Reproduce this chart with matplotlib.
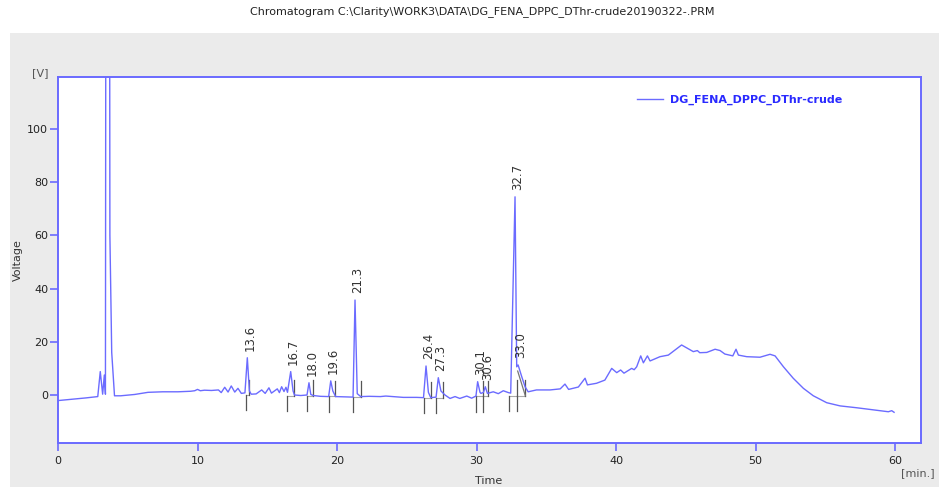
import matplotlib
matplotlib.use("Agg")
import matplotlib.pyplot as plt
from matplotlib.patches import Rectangle

# ---- data ----
trace_time = [0.0, 1.0, 2.0, 2.85, 3.03, 3.20, 3.32, 3.40, 3.56, 3.72, 3.85, 4.05, 4.5, 5.5,
              6.45, 7.5, 8.6, 9.5, 9.8, 10.0, 10.2, 10.5, 11.0, 11.5, 11.7, 11.95, 12.19,
              12.42, 12.67, 12.9, 13.14, 13.40, 13.57, 13.72, 13.85, 14.2, 14.6, 14.85,
              15.12, 15.3, 15.72, 15.87, 16.03, 16.2, 16.34, 16.45, 16.68, 16.85, 16.95,
              17.4, 17.85, 17.99, 18.12, 18.3, 18.8, 19.4, 19.55, 19.7, 19.9, 20.5, 21.15,
              21.29, 21.45, 21.7, 22.3, 23.1, 23.5, 24.2, 24.75, 25.7, 26.2, 26.38, 26.55,
              26.72, 27.1, 27.26, 27.45, 27.74, 28.1, 28.46, 28.8, 29.3, 29.65, 29.96,
              30.08, 30.25, 30.32, 30.50, 30.63, 30.78, 31.2, 31.56, 31.92, 32.28, 32.45,
              32.76, 32.88, 32.98, 33.24, 33.48, 33.7, 34.3, 35.27, 36.0, 36.34, 36.6,
              37.3, 37.78, 37.95, 38.6, 39.2, 39.69, 40.05, 40.33, 40.57, 41.12, 41.3,
              41.48, 41.77, 41.96, 42.25, 42.44, 43.15, 43.75, 44.7, 45.54, 45.83, 46.0,
              46.5, 47.1, 47.46, 47.8, 48.37, 48.6, 48.77, 49.37, 50.32, 51.04, 51.4,
              52.0, 52.7, 53.43, 54.14, 55.1, 56.06, 57.25, 58.45, 59.52, 59.76, 59.93]
trace_voltage = [-2.1, -1.6, -1.1, -0.6, 8.8, 0.3, 7.5, 0.3, 900.0, 60.0, 16.0, -0.3, -0.3, 0.2,
                 1.0, 1.2, 1.2, 1.4, 1.6, 2.1, 1.6, 1.8, 1.7, 1.9, 0.9, 2.9, 1.1,
                 3.4, 1.1, 2.5, 0.6, 0.8, 14.0, 1.5, 0.3, 0.4, 1.9, 0.6,
                 2.7, 0.7, 2.3, 0.9, 3.1, 1.3, 2.9, 1.0, 8.8, 1.5, 0.0,
                 -0.2, 0.0, 4.6, 0.2, -0.2, -0.5, -0.6, 5.3, 1.5, -0.6, -0.7, -0.8,
                 35.7, 0.5, -0.6, -0.5, -0.6, -0.4, -0.7, -0.9, -0.9, -1.0, 10.9, 1.0,
                 -1.0, -0.8, 6.5, 1.5, 0.0, -1.3, -0.6, -1.3, -0.4, -1.2, -0.4,
                 5.0, 1.0, 0.6, 1.0, 3.1, 0.6, 1.2, 0.5, 1.6, 0.9, 0.7,
                 74.5, 10.6, 11.3, 6.9, 3.1, 1.2, 1.9, 1.9, 2.3, 4.1, 2.1,
                 3.0, 6.3, 3.8, 4.4, 5.6, 10.0, 8.4, 9.4, 8.2, 10.0, 9.5,
                 10.6, 14.7, 12.1, 14.7, 12.8, 14.4, 15.0, 18.8, 16.3, 16.7, 15.9,
                 16.0, 17.2, 16.7, 15.4, 14.7, 17.2, 15.0, 14.4, 14.2, 15.3, 14.7,
                 10.6, 6.3, 2.5, -0.3, -2.9, -4.1, -4.8, -5.6, -6.3, -5.9, -6.5]

peak_labels = ["13.6", "16.7", "18.0", "19.6", "21.3", "26.4", "27.3", "30.1", "30.6", "32.7", "33.0"]
peak_apex_time = [13.57, 16.68, 17.99, 19.55, 21.29, 26.38, 27.26, 30.08, 30.63, 32.76, 32.98]
peak_apex_volt = [14.0, 8.8, 4.6, 5.3, 35.7, 10.9, 6.5, 5.0, 3.1, 74.5, 11.3]
peak_start = [13.45, 16.43, 17.87, 19.40, 21.17, 26.24, 27.10, 29.96, 30.44, 32.35, 32.90]
peak_end = [13.71, 16.92, 18.30, 19.88, 21.72, 26.74, 27.57, 30.44, 30.80, 32.90, 33.50]
peak_base = [0.0, -0.2, -0.2, -0.5, -0.7, -1.0, -1.0, -0.5, -0.5, -0.3, -0.3]

x_ticks = [0, 10, 20, 30, 40, 50, 60]
y_ticks = [0, 20, 40, 60, 80, 100]

title = "Chromatogram C:\\Clarity\\WORK3\\DATA\\DG_FENA_DPPC_DThr-crude20190322-.PRM"
series_name = "DG_FENA_DPPC_DThr-crude"

# ---- styling ----
W, H = 939, 487
TRACE = "#6b6bff"
SPINE = "#6a6aff"
TXT = "#333333"
plt.rcParams["font.family"] = ["DejaVu Sans"]
plt.rcParams["font.size"] = 8

fig = plt.figure(figsize=(W / 100, H / 100), dpi=100, facecolor="white")
bg = Rectangle((10 / W, 0), 1 - 10 / W, (H - 33) / H, transform=fig.transFigure,
               facecolor="#ebebeb", edgecolor="none", zorder=-10)
fig.add_artist(bg)

ax = fig.add_axes([58 / W, (H - 443) / H, (921 - 58) / W, (443 - 77) / H])
ax.set_zorder(1)
ax.set_facecolor("white")
ax.plot(trace_time, trace_voltage, color=TRACE, lw=1.0, label=series_name, zorder=3)
ax.set_xlim(0, 61.86)
ax.set_ylim(-18.05, 119.55)
ax.set_xticks(x_ticks)
ax.set_yticks(y_ticks)
for s in ax.spines.values():
    s.set_color(SPINE)
    s.set_linewidth(1.4)
ax.tick_params(direction="out", length=6, width=1.2, color=SPINE, labelcolor="#222222",
               labelsize=8)
ax.tick_params(axis="y", pad=1)
ax.tick_params(axis="x", pad=3)

mark = 5.8
for lab, ta, va, ts, te, b in zip(peak_labels, peak_apex_time, peak_apex_volt,
                                  peak_start, peak_end, peak_base):
    ax.plot([ts, te], [b, b], color="#aaaaaa", lw=0.8, zorder=2)
    ax.plot([ts, ts], [b, b - mark], color="#555555", lw=0.9, zorder=2)
    ax.plot([te, te], [b, b + mark], color="#555555", lw=0.9, zorder=2)
    ax.annotate(lab, (ta, va), xytext=(2, 5), textcoords="offset points", rotation=90,
                ha="center", va="bottom", fontsize=8.5, color=TXT, zorder=4)
# tangent skim of the rider peak
ax.plot([32.95, 33.50], [9.0, -0.3], color="#777777", lw=0.9, zorder=2)

leg = ax.legend(loc="center left", bbox_to_anchor=(637 / W, 1 - 100 / H),
                bbox_transform=fig.transFigure, frameon=False, borderpad=0,
                borderaxespad=0, handlelength=2.3, handletextpad=0.7,
                prop={"weight": "bold", "size": 8})
for t in leg.get_texts():
    t.set_color("#2a2aff")

fig.text(482 / W, 1 - 12 / H, title, ha="center", va="center", fontsize=8, color="#222222")
fig.text(40 / W, 1 - 73 / H, "[V]", ha="center", va="center", fontsize=8, color="#555555")
fig.text(918 / W, 1 - 473 / H, "[min.]", ha="center", va="center", fontsize=8, color="#555555")
fig.text(18 / W, 1 - 260 / H, "Voltage", ha="center", va="center", rotation=90, fontsize=8,
         color=TXT)
fig.text(489 / W, 1 - 481 / H, "Time", ha="center", va="center", fontsize=8, color=TXT)

fig.savefig("out.png", dpi=100, facecolor=fig.get_facecolor())
